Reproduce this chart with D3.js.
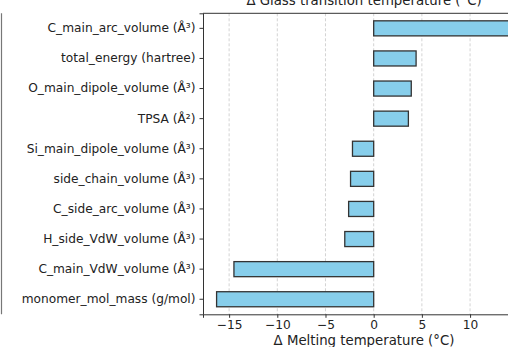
<!DOCTYPE html>
<html>
<head>
<meta charset="utf-8">
<script src="https://cdn.jsdelivr.net/npm/d3@7"></script>
<style>
  body { margin: 0; background: #fff; }
  text { font-family: "DejaVu Sans", sans-serif; }
</style>
</head>
<body>
<div id="chart"></div>
<script>
// descriptors, top to bottom
var features = ["C_main_arc_volume (Å³)", "total_energy (hartree)", "O_main_dipole_volume (Å³)",
  "TPSA (Å²)", "Si_main_dipole_volume (Å³)", "side_chain_volume (Å³)", "C_side_arc_volume (Å³)",
  "H_side_VdW_volume (Å³)", "C_main_VdW_volume (Å³)", "monomer_mol_mass (g/mol)"];
var deltaTm = [15.0, 4.4, 3.9, 3.6, -2.2, -2.4, -2.6, -3.0, -14.5, -16.3];
var xTicks = [-15, -10, -5, 0, 5, 10];

var margin = {top: 13.3, right: 0, bottom: 33, left: 203},
  width = 322,
  height = 301;

var svg = d3.select("#chart")
  .append("svg")
  .attr("width", 508)
  .attr("height", 347);

// right spine of the neighbouring panel
svg.append("line")
  .attr("x1", 1.5).attr("x2", 1.5)
  .attr("y1", margin.top).attr("y2", margin.top + height)
  .attr("stroke", "#777").attr("stroke-width", 1.2);

var g = svg.append("g")
  .attr("transform", "translate(" + margin.left + "," + margin.top + ")");

var x = d3.scaleLinear()
  .domain([-17.71, 15.7])
  .range([0, width]);

var y = d3.scaleBand()
  .domain(features)
  .range([0, height])
  .paddingInner(0.5)
  .paddingOuter(0.25);

// grid
g.selectAll(".grid")
  .data(xTicks)
  .enter()
  .append("line")
  .attr("x1", function(d) { return x(d); })
  .attr("x2", function(d) { return x(d); })
  .attr("y1", 0).attr("y2", height)
  .attr("stroke", "#c8c8c8")
  .attr("stroke-width", 0.8)
  .attr("stroke-dasharray", "3,2");

// bars
g.selectAll("myRect")
  .data(features)
  .enter()
  .append("rect")
  .attr("x", function(d, i) { return x(Math.min(0, deltaTm[i])); })
  .attr("y", function(d) { return y(d); })
  .attr("width", function(d, i) { return Math.abs(x(deltaTm[i]) - x(0)); })
  .attr("height", y.bandwidth())
  .attr("fill", "#87ceeb")
  .attr("stroke", "#333")
  .attr("stroke-width", 1.3);

// axes
var xAxis = g.append("g")
  .attr("transform", "translate(0," + height + ")")
  .call(d3.axisBottom(x).tickValues(xTicks).tickSize(3.5).tickPadding(3));

var yAxis = g.append("g")
  .call(d3.axisLeft(y).tickSize(3.5).tickPadding(4));

[xAxis, yAxis].forEach(function(a) {
  a.select(".domain").attr("stroke", "#333").attr("stroke-width", 1);
  a.selectAll(".tick line").attr("stroke", "#333");
  a.selectAll("text").attr("fill", "#222").style("font-size", "12.2px")
    .style("font-family", "DejaVu Sans");
});

// top spine
g.append("line")
  .attr("x1", 0).attr("x2", width)
  .attr("y1", 0).attr("y2", 0)
  .attr("stroke", "#333").attr("stroke-width", 1);

// labels
g.append("text")
  .attr("x", width / 2)
  .attr("y", height + 31)
  .attr("text-anchor", "middle")
  .style("font-size", "13.3px")
  .attr("fill", "#222")
  .text("Δ Melting temperature (°C)");

g.append("text")
  .attr("x", width / 2)
  .attr("y", -8.5)
  .attr("text-anchor", "middle")
  .style("font-size", "13.3px")
  .attr("fill", "#222")
  .text("Δ Glass transition temperature (°C)");
</script>
</body>
</html>
